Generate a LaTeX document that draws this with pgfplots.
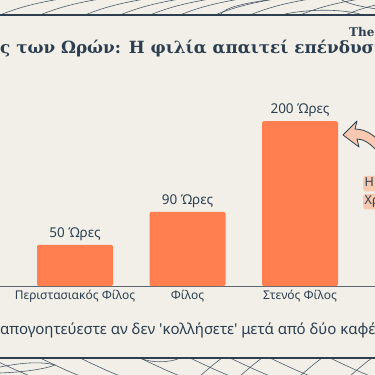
\documentclass[border=0pt]{standalone}
\usepackage{pgfplots}
\pgfplotsset{compat=1.18}
\usepackage{fontspec}
\setmainfont{Noto Sans}
\newfontfamily\titlefont{DejaVu Serif}
\definecolor{bg}{HTML}{F1EFE7}
\definecolor{coral}{HTML}{FF7F50}
\definecolor{dark}{HTML}{2C3E50}
\definecolor{peach}{HTML}{F8C9B0}
\definecolor{axisgray}{HTML}{5F6870}
\begin{document}
\begin{tikzpicture}[x=1pt,y=1pt]
\fill[bg] (0,0) rectangle (375,375);
% top contour band
\begin{scope}
\clip (0,360) rectangle (375,375);
\foreach \s in {0,40,85,120,150,180,215,250,300,345}{
  \draw[dark!85, line width=0.6pt] (\s,360) .. controls (\s+15,366) and (\s+30,371) .. (\s+60,376);
}
\draw[dark!85, line width=0.6pt] (220,360) .. controls (225,368) and (245,372) .. (275,376);
\draw[dark!85, line width=0.6pt] (285,361) .. controls (310,366) and (340,366) .. (360,361);
\draw[dark!85, line width=0.6pt] (340,376) .. controls (350,370) and (365,368) .. (376,366);
\end{scope}
\draw[dark, line width=1.1pt] (0,360) -- (375,360);
% bottom contour band
\begin{scope}
\clip (0,0) rectangle (375,17);
\foreach \s in {-10,40,80,140,190,230,270,330}{
  \draw[dark!85, line width=0.6pt] (\s,17) .. controls (\s+15,10) and (\s+25,5) .. (\s+40,-1);
}
\foreach \s in {200,240,300,350}{
  \draw[dark!85, line width=0.6pt] (\s,-1) .. controls (\s+8,6) and (\s+15,12) .. (\s+22,17);
}
\draw[dark!85, line width=0.6pt] (0,8) .. controls (20,12) and (40,14) .. (55,10) .. controls (45,6) and (25,3) .. (0,2);
\draw[dark!85, line width=0.6pt] (140,17) .. controls (150,12) and (170,12) .. (180,17);
\end{scope}
\draw[dark, line width=1.1pt] (0,17) -- (375,17);
% top-right small text
\node[anchor=base west, font=\titlefont\bfseries\fontsize{12}{14}\selectfont, text=dark, inner sep=0] at (349,338) {The Rule};
% title
\node[anchor=base west, font=\titlefont\bfseries\fontsize{16.8}{20}\selectfont, text=dark, inner sep=0] at (0,321) {\llap{Ο Κανόνα}ς των Ωρών: Η φιλία απαιτεί επένδυση χρόνου};
% caption
\node[anchor=base west, font=\fontsize{15}{18}\selectfont, text=dark, inner sep=0] at (0,40.5) {\llap{Μην }απογοητεύεστε αν δεν \textquotesingle κολλήσετε\textquotesingle{} μετά από δύο καφέδες};
\begin{axis}[
  at={(0,108)}, anchor=south west,
  scale only axis, width=375pt, height=206pt,
  xmin=-0.6667, xmax=2.6667, ymin=0, ymax=250,
  axis x line*=bottom, axis y line=none,
  x axis line style={-, axisgray, line width=0.9pt},
  xtick={0,1,2},
  xticklabels={Περιστασιακός Φίλος, Φίλος, Στενός Φίλος},
  major tick length=0pt,
  ytick=\empty,
  x tick label style={font=\fontsize{12}{14}\selectfont, text=dark, yshift=-1pt},
  ybar, bar width=76pt, bar shift=0pt,
  /pgf/number format/assume math mode=true,
  nodes near coords={\pgfmathprintnumber{\pgfplotspointmeta}~Ώρες},
  every node near coord/.append style={font=\fontsize{13.5}{16}\selectfont, text=dark, yshift=1pt},
  clip=false,
]
\addplot[fill=coral, draw=none, rounded corners=2pt] coordinates {(0,50) (1,90) (2,200)};
\end{axis}
% annotation arrow
\draw[dark, line width=0.8pt, fill=peach, line join=round]
  (343,240) -- (357,254) -- (355,246) .. controls (362,246) and (370,243) .. (377,236)
  -- (377,224) .. controls (370,232) and (363,236) .. (357,236) -- (359,228) -- cycle;
\node[anchor=base west, font=\fontsize{12.5}{15}\selectfont, text=dark, fill=peach, rounded corners=3pt, inner sep=1.5pt] at (363,188) {Η διαφορά};
\node[anchor=base west, font=\fontsize{12.5}{15}\selectfont, text=dark, fill=peach, rounded corners=3pt, inner sep=1.5pt] at (363,170) {Χρόνος};
\pgfresetboundingbox
\useasboundingbox (0,0) rectangle (375,375);
\end{tikzpicture}
\end{document}
